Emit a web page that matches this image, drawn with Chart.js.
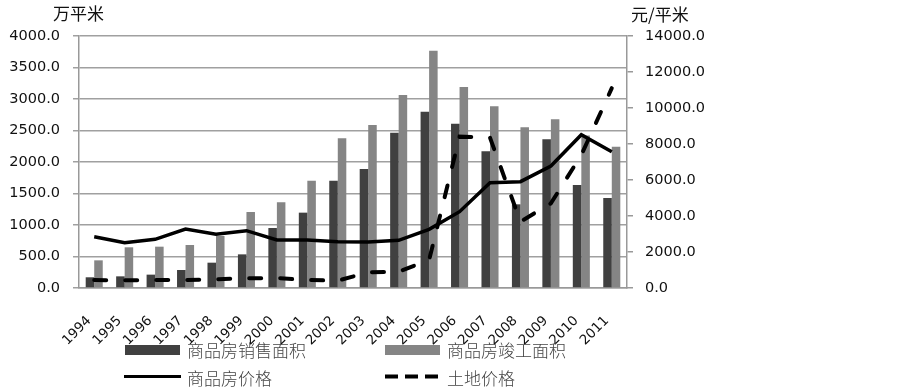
<!DOCTYPE html>
<html><head><meta charset="utf-8">
<script src="https://cdn.jsdelivr.net/npm/chart.js@4"></script>
<style>
html,body{margin:0;padding:0;background:#fff;}
#wrap{position:relative;width:903px;height:387px;overflow:hidden;}
canvas{position:absolute;left:0;top:0;}
.t{position:absolute;font-family:"Noto Sans CJK SC";white-space:nowrap;line-height:17px;}
.lg{font-size:17px;color:#444;font-weight:300;}
</style></head><body>
<div id="wrap">
<canvas id="c" width="903" height="387"></canvas>
<div class="t" style="left:53px;top:4px;font-size:17px;color:#111;">万平米</div>
<div class="t" style="left:631px;top:5px;font-size:17px;color:#111;">元/平米</div>
<div style="position:absolute;left:125px;top:345px;width:55px;height:10px;background:#404040;"></div>
<div class="t lg" style="left:187px;top:341px;">商品房销售面积</div>
<div style="position:absolute;left:385px;top:345px;width:55px;height:10px;background:#858585;"></div>
<div class="t lg" style="left:447px;top:341px;">商品房竣工面积</div>
<div style="position:absolute;left:124px;top:375px;width:57px;height:3px;background:#000;"></div>
<div class="t lg" style="left:187px;top:369px;">商品房价格</div>
<svg style="position:absolute;left:385px;top:371px;" width="56" height="12"><line x1="0" y1="5.5" x2="56" y2="5.5" stroke="#000" stroke-width="4" stroke-dasharray="13,7"/></svg>
<div class="t lg" style="left:447px;top:369px;">土地价格</div>
</div>
<script>
const years = ['1994','1995','1996','1997','1998','1999','2000','2001','2002','2003','2004','2005','2006','2007','2008','2009','2010','2011'];
const salesArea = [170,185,212,286,402,534,952,1196,1704,1889,2466,2799,2608,2169,1328,2360,1635,1429];
const completedArea = [439,646,656,683,825,1206,1360,1704,2376,2587,3063,3767,3190,2884,2550,2677,2420,2243];
const housePrice = [2850,2517,2704,3278,2981,3185,2667,2667,2574,2550,2650,3259,4241,5852,5907,6778,8519,7574];
const landPrice = [444,426,444,444,481,537,555,444,407,870,907,1556,8407,8352,3685,4704,7389,11100];
const leftTicks = [0,500,1000,1500,2000,2500,3000,3500,4000];
const rightTicks = [0,2000,4000,6000,8000,10000,12000,14000];

const tickFont = {family:'DejaVu Sans', size:14.5};
new Chart(document.getElementById('c'), {
  data: {
    labels: years,
    datasets: [
      {type:'line', label:'商品房价格', data:housePrice, yAxisID:'y1', borderColor:'#000', borderWidth:3.5, pointRadius:0, tension:0, order:1},
      {type:'line', label:'土地价格', data:landPrice, yAxisID:'y1', borderColor:'#000', borderWidth:4, borderDash:[12,19], borderCapStyle:'round', pointRadius:0, tension:0, order:0},
      {type:'bar', label:'商品房销售面积', data:salesArea, yAxisID:'y', backgroundColor:'#404040', categoryPercentage:0.56, barPercentage:1, order:3},
      {type:'bar', label:'商品房竣工面积', data:completedArea, yAxisID:'y', backgroundColor:'#858585', categoryPercentage:0.56, barPercentage:1, order:3}
    ]
  },
  options: {
    responsive:false, animation:false,
    layout:{padding:{top:36,right:0,left:0,bottom:0}},
    plugins:{legend:{display:false}, tooltip:{enabled:false}},
    scales:{
      x:{
        grid:{display:false, drawTicks:false},
        border:{color:'#999', width:1.5},
        ticks:{maxRotation:45, minRotation:45, padding:25, labelOffset:-5, autoSkip:false, font:{family:'DejaVu Sans', size:13.5}, color:'#111'},
        afterFit:s=>{s.height=99;}
      },
      y:{
        position:'left', min:0, max:4000,
        afterBuildTicks:s=>{s.ticks=leftTicks.map(v=>({value:v}));},
        grid:{color:'#a0a0a0', lineWidth:1.5, tickLength:6},
        border:{color:'#999', width:1.5},
        ticks:{padding:13, font:tickFont, color:'#111', callback:v=>v.toFixed(1)},
        afterFit:s=>{s.width=79;}
      },
      y1:{
        position:'right', min:0, max:14000,
        afterBuildTicks:s=>{s.ticks=rightTicks.map(v=>({value:v}));},
        grid:{drawOnChartArea:false, color:'#999', lineWidth:1.5, tickLength:6},
        border:{color:'#999', width:1.5},
        ticks:{padding:12, font:tickFont, color:'#111', callback:v=>v.toFixed(1)},
        afterFit:s=>{s.width=276;}
      }
    }
  }
});
</script>
</body></html>
